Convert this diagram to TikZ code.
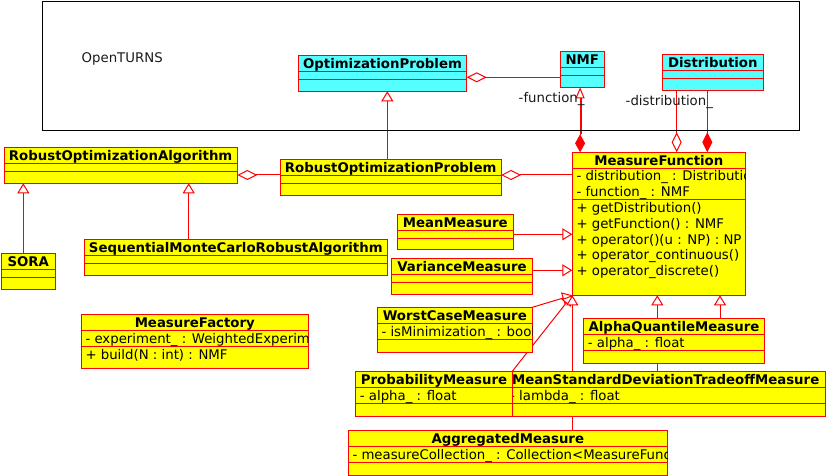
\documentclass[tikz,border=0pt]{standalone}
\usepackage{fontspec}
\setmainfont{DejaVu Sans}
\usetikzlibrary{arrows.meta,calc,backgrounds}
\definecolor{umlcyan}{RGB}{85,255,255}
\definecolor{umlyellow}{RGB}{255,255,0}
\definecolor{umlred}{RGB}{255,0,0}
\tikzset{
  classbox/.style={draw=umlred, line width=1pt, inner sep=0pt, outer sep=0pt, anchor=north west},
  ttl/.style={font=\fontsize{13.3}{15.7}\selectfont\bfseries, anchor=base, inner sep=0pt},
  txt/.style={font=\fontsize{13.3}{15.7}\selectfont, anchor=base west, inner sep=0pt},
  lbl/.style={font=\fontsize{13.3}{15.7}\selectfont, anchor=base west, inner sep=0pt, text=black!90},
  conn/.style={draw=umlred, line width=1pt},
  gen/.style={conn, -{Triangle[length=10pt, width=12pt, fill=white]}},
  agg/.style={conn, {Diamond[length=20pt, width=10pt, fill=white]}-},
  compo/.style={conn, {Diamond[length=20pt, width=10pt, fill=umlred]}-},
  compnav/.style={conn, {Diamond[length=18pt, width=10pt, fill=umlred]}-{Triangle[length=11pt, width=9pt, fill=white]}},
}
% #1 name, #2 x1, #3 y1, #4 x2, #5 first divider, #6 second divider, #7 y2, #8 fill, #9 title
\newcommand\umlbox[9]{%
  \pgfmathsetmacro\bw{#4-#2}%
  \pgfmathsetmacro\bh{#7-#3}%
  \node[classbox, fill=#8, minimum width=\bw pt, minimum height=\bh pt] (#1) at (#2,#3) {};
  \draw[umlred, line width=1pt] (#2,#5) -- (#4,#5) (#2,#6) -- (#4,#6);
  \begin{scope}
    \clip (#1.north west) rectangle (#1.south east);
    \node[ttl] (#1t) at ({(#2+#4)/2},{#3+13}) {#9};
  \end{scope}%
}
\begin{document}
\begin{tikzpicture}[x=1pt, y=-1pt]
\useasboundingbox (0,0) rectangle (828,476);

% package frame
\draw[black, line width=1pt] (42,1.5) rectangle (799,131);
\node[lbl] (pkg) at (81.5,62.3) {OpenTURNS};

% ---- classes ----
\umlbox{op}{298.3}{55.3}{466.7}{71.3}{79.3}{91.3}{umlcyan}{OptimizationProblem}
\umlbox{nmf}{560.3}{51.3}{604.3}{67.3}{75.3}{87.3}{umlcyan}{NMF}
\umlbox{dist}{662.3}{54.3}{763.3}{70.3}{78.3}{90.3}{umlcyan}{Distribution}

\umlbox{roa}{4}{147.3}{237.3}{163.3}{171.3}{183.3}{umlyellow}{RobustOptimizationAlgorithm}
\umlbox{rop}{280.3}{159.3}{501}{175.3}{183.3}{195.3}{umlyellow}{RobustOptimizationProblem}
\umlbox{sora}{1.3}{253.3}{55.3}{269}{277}{289.3}{umlyellow}{SORA}
\umlbox{smc}{84.3}{239.3}{387.3}{255.3}{263.3}{275.3}{umlyellow}{SequentialMonteCarloRobustAlgorithm}

\umlbox{mf}{572.3}{152.3}{745.3}{168.3}{199.3}{295.3}{umlyellow}{MeasureFunction}
\begin{scope}
  \clip (mf.north west) rectangle (mf.south east);
  \node[txt] (mfa1) at (576.3,180.6) {- distribution\_ : Distribution};
  \node[txt] (mfa2) at (576.3,196.2) {- function\_ : NMF};
  \node[txt] (mfo1) at (576.3,212.6) {+ getDistribution()};
  \node[txt] (mfo2) at (576.3,228.3) {+ getFunction() : NMF};
  \node[txt] (mfo3) at (576.3,244.0) {+ operator()(u : NP) : NP};
  \node[txt] (mfo4) at (576.3,259.7) {+ operator\_continuous()};
  \node[txt] (mfo5) at (576.3,275.4) {+ operator\_discrete()};
\end{scope}

\umlbox{mean}{397.3}{214.3}{513.3}{230}{238}{249.3}{umlyellow}{MeanMeasure}
\umlbox{var}{391.7}{258.3}{532.3}{274.3}{282.3}{294.3}{umlyellow}{VarianceMeasure}

\umlbox{wc}{377.3}{307.3}{532.3}{323.3}{339.3}{352}{umlyellow}{WorstCaseMeasure}
\begin{scope}
  \clip (wc.north west) rectangle (wc.south east);
  \node[txt] (wca1) at (381.3,336) {- isMinimization\_ : bool};
\end{scope}

\umlbox{aq}{583.7}{318.3}{764.3}{334.3}{350.3}{363}{umlyellow}{AlphaQuantileMeasure}
\begin{scope}
  \clip (aq.north west) rectangle (aq.south east);
  \node[txt] (aqa1) at (587.7,347) {- alpha\_ : float};
\end{scope}

\umlbox{msd}{506}{371.3}{825.3}{387.3}{403.3}{416}{umlyellow}{MeanStandardDeviationTradeoffMeasure}
\begin{scope}
  \clip (msd.north west) rectangle (msd.south east);
  \node[txt] (msda1) at (510,400) {- lambda\_ : float};
\end{scope}

\umlbox{prob}{355.7}{371.3}{512.3}{387.3}{403.3}{416}{umlyellow}{ProbabilityMeasure}
\begin{scope}
  \clip (prob.north west) rectangle (prob.south east);
  \node[txt] (proba1) at (359.7,400) {- alpha\_ : float};
\end{scope}

\umlbox{agm}{348.3}{430.3}{667.3}{446.3}{462.3}{475}{umlyellow}{AggregatedMeasure}
\begin{scope}
  \clip (agm.north west) rectangle (agm.south east);
  \node[txt] (agma1) at (352.3,459) {- measureCollection\_ : Collection<MeasureFunction>};
\end{scope}

\umlbox{mfac}{81.3}{314.3}{308.3}{330.3}{346.3}{368.3}{umlyellow}{MeasureFactory}
\begin{scope}
  \clip (mfac.north west) rectangle (mfac.south east);
  \node[txt] (mfaca1) at (85.3,343) {- experiment\_ : WeightedExperiment};
  \node[txt] (mfaco1) at (85.3,359) {+ build(N : int) : NMF};
\end{scope}

% role labels
\node[lbl] (fnl) at (518.5,102.8) {-function\_};
\node[lbl] (dsl) at (625.5,105.8) {-distribution\_};

% ---- connectors (behind the classes) ----
\begin{scope}[on background layer]
  % aggregations
  \draw[agg] ($(op.north east)+(0,22)$) -- ($(nmf.north west)+(0,26)$);
  \draw[agg] ($(roa.north east)+(0,27.7)$) -- ($(rop.north west)+(0,15.7)$);
  \draw[agg] ($(rop.north east)+(0,15.7)$) -- ($(mf.north west)+(0,22.7)$);
  \draw[agg] ($(mf.north west)+(104.4,0)$) -- ($(dist.south west)+(14.4,0)$);
  % compositions
  \draw[compo] ($(mf.north west)+(135,0)$) -- ($(dist.south west)+(45,0)$);
  \draw[conn] ($(mf.north west)+(8.8,-18)$) -- ($(nmf.south west)+(20.8,11)$);
  \draw[compnav] ($(mf.north west)+(7.8,0)$) -- ($(nmf.south west)+(19.8,0)$);
  % generalizations
  \draw[gen] ($(rop.north west)+(107,0)$) -- ($(op.south west)+(89,0)$);
  \draw[gen] ($(sora.north west)+(22,0)$) -- ($(roa.south west)+(19.3,0)$);
  \draw[gen] ($(smc.north west)+(104.4,0)$) -- ($(roa.south west)+(184.7,0)$);
  \draw[gen] ($(mean.north east)+(0,20)$) -- ($(mf.north west)+(0,82)$);
  \draw[gen] ($(var.north east)+(0,12)$) -- ($(mf.north west)+(0,118)$);
  \draw[gen] (wc.north east) -- (mf.south west);
  \draw[gen] (prob.north east) -- (mf.south west);
  \draw[gen] ($(agm.north west)+(224,0)$) -- (mf.south west);
  \draw[gen] ($(msd.north west)+(151.3,0)$) -- ($(mf.south west)+(85,0)$);
  \draw[gen] ($(aq.north west)+(136.3,0)$) -- ($(mf.south west)+(147.7,0)$);
\end{scope}
\end{tikzpicture}
\end{document}
